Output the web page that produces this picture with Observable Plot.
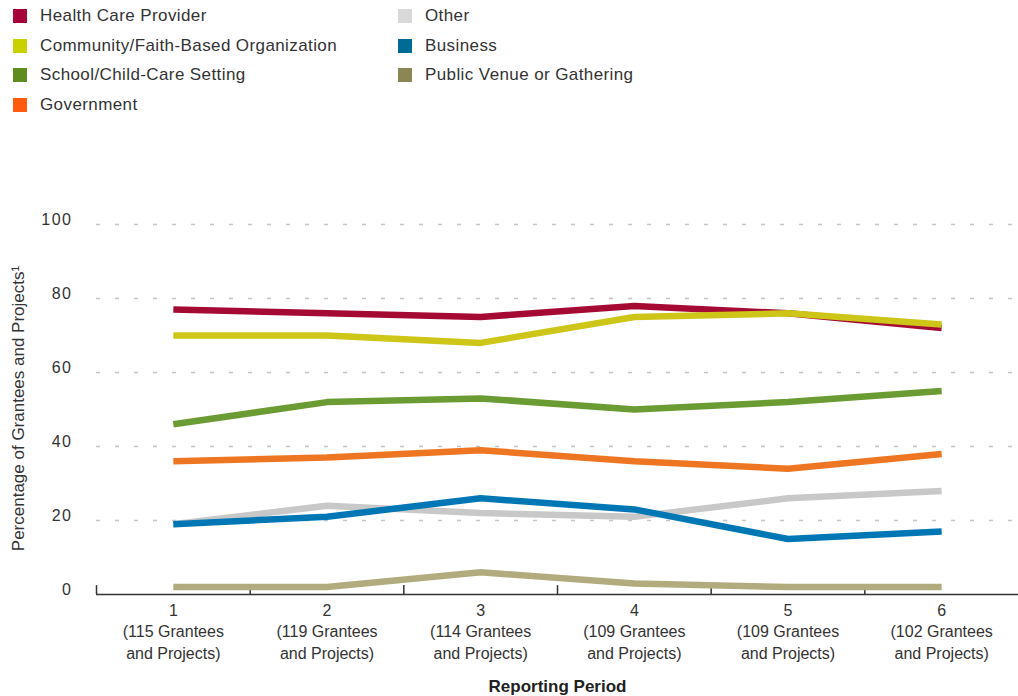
<!DOCTYPE html>
<html>
<head>
<meta charset="utf-8">
<script src="https://cdn.jsdelivr.net/npm/d3@7"></script>
<script src="https://cdn.jsdelivr.net/npm/@observablehq/plot@0.6"></script>
<style>
  html, body { margin: 0; padding: 0; background: #fff; }
  body { width: 1018px; height: 696px; overflow: hidden; font-family: "Liberation Sans", Arial, sans-serif; color: #333; }
  #legend { position: relative; height: 120px; width: 1018px; }
  .item { position: absolute; display: flex; align-items: center; font-size: 17px; letter-spacing: 0.4px; white-space: nowrap; }
  .sw { width: 14px; height: 14px; margin-right: 13px; }
  #chart svg { display: block; }
  #chart svg g[aria-label="y-axis tick label"] text { letter-spacing: 1.5px; }
</style>
</head>
<body>
<div id="legend"></div>
<div id="chart"></div>
<script>
// ---- data ----
const periods = [1, 2, 3, 4, 5, 6];
const grantees = [115, 119, 114, 109, 109, 102];
const seriesNames = [
  "Health Care Provider",
  "Community/Faith-Based Organization",
  "School/Child-Care Setting",
  "Government",
  "Other",
  "Business",
  "Public Venue or Gathering"
];
const healthCare = [77, 76, 75, 78, 76, 72];
const community = [70, 70, 68, 75, 76, 73];
const school = [46, 52, 53, 50, 52, 55];
const government = [36, 37, 39, 36, 34, 38];
const other = [19, 24, 22, 21, 26, 28];
const business = [19, 21, 26, 23, 15, 17];
const publicVenue = [2, 2, 6, 3, 2, 2];
const yTicks = [0, 20, 40, 60, 80, 100];

const lineColors = ["#a50a35", "#cdc618", "#6b9b33", "#ee7623", "#c8c8c8", "#0077b5", "#b2ab7e"];
const swatchColors = ["#a6033a", "#c9d200", "#5f8c1e", "#ff5b0f", "#d9d9d9", "#006c96", "#8b8653"];

const valuesBySeries = [healthCare, community, school, government, other, business, publicVenue];
// drawing order (later on top)
const drawOrder = [
  "Other",
  "Health Care Provider",
  "Community/Faith-Based Organization",
  "School/Child-Care Setting",
  "Government",
  "Business",
  "Public Venue or Gathering"
];

const rows = [];
for (const name of drawOrder) {
  const i = seriesNames.indexOf(name);
  periods.forEach((p, j) => rows.push({series: name, period: p, value: valuesBySeries[i][j]}));
}

// ---- legend (HTML) ----
const legendLayout = [
  {name: "Health Care Provider", col: 0, row: 0},
  {name: "Community/Faith-Based Organization", col: 0, row: 1},
  {name: "School/Child-Care Setting", col: 0, row: 2},
  {name: "Government", col: 0, row: 3},
  {name: "Other", col: 1, row: 0},
  {name: "Business", col: 1, row: 1},
  {name: "Public Venue or Gathering", col: 1, row: 2}
];
const legend = d3.select("#legend");
for (const it of legendLayout) {
  const i = seriesNames.indexOf(it.name);
  const div = legend.append("div").attr("class", "item")
    .style("left", (it.col === 0 ? 13 : 398) + "px")
    .style("top", (6 + it.row * 29.5) + "px")
    .style("height", "20px");
  div.append("div").attr("class", "sw").style("background", swatchColors[i]);
  div.append("span").text(it.name);
}

// ---- chart ----
const font = "Liberation Sans, Arial, sans-serif";
const tickLabel = (p, i) => `${p}\n(${grantees[i]} Grantees\nand Projects)`;

const chart = Plot.plot({
  width: 1018,
  height: 576,
  marginTop: 104,
  marginBottom: 102,
  marginLeft: 96,
  marginRight: 0,
  style: {fontFamily: font, color: "#333", background: "#fff"},
  x: {domain: [0.5, 6.5], axis: null},
  y: {domain: [0, 100], axis: null},
  color: {domain: seriesNames, range: lineColors},
  marks: [
    Plot.ruleY(yTicks.filter(d => d > 0), {x1: 0.5, x2: 6.5, stroke: "#c4c4c4", strokeWidth: 1.5, strokeDasharray: "4,15"}),
    Plot.axisY({ticks: yTicks, tickSize: 0, tickPadding: 24, fontSize: 16, dy: -5, fill: "#333", label: null}),
    Plot.ruleY([0], {x1: 0.5, x2: 6.5, stroke: "#333", strokeWidth: 1.5}),
    Plot.ruleX([0.5, 1.5, 2.5, 3.5, 4.5, 5.5], {y1: 0, y2: 2.4, stroke: "#333", strokeWidth: 1.5}),
    Plot.text(periods, {x: d => d, y: 0, text: tickLabel, lineAnchor: "top", dy: 6, lineHeight: 1.34, fontSize: 16, fill: "#333", letterSpacing: "0.3px"}),
    Plot.line(rows, {x: "period", y: "value", z: "series", stroke: "series", strokeWidth: 6.5, strokeLinejoin: "miter", strokeLinecap: "butt"}),
    Plot.text(["Percentage of Grantees and Projects¹"], {frameAnchor: "left", rotate: -90, textAnchor: "middle", dx: -78, dy: -1, fontSize: 17, fill: "#333", letterSpacing: "0.8px"}),
    Plot.text(["Reporting Period"], {frameAnchor: "bottom", dy: 97, fontSize: 17, fontWeight: "bold", fill: "#222", letterSpacing: "0.5px"})
  ]
});
document.getElementById("chart").appendChild(chart);
</script>
</body>
</html>
